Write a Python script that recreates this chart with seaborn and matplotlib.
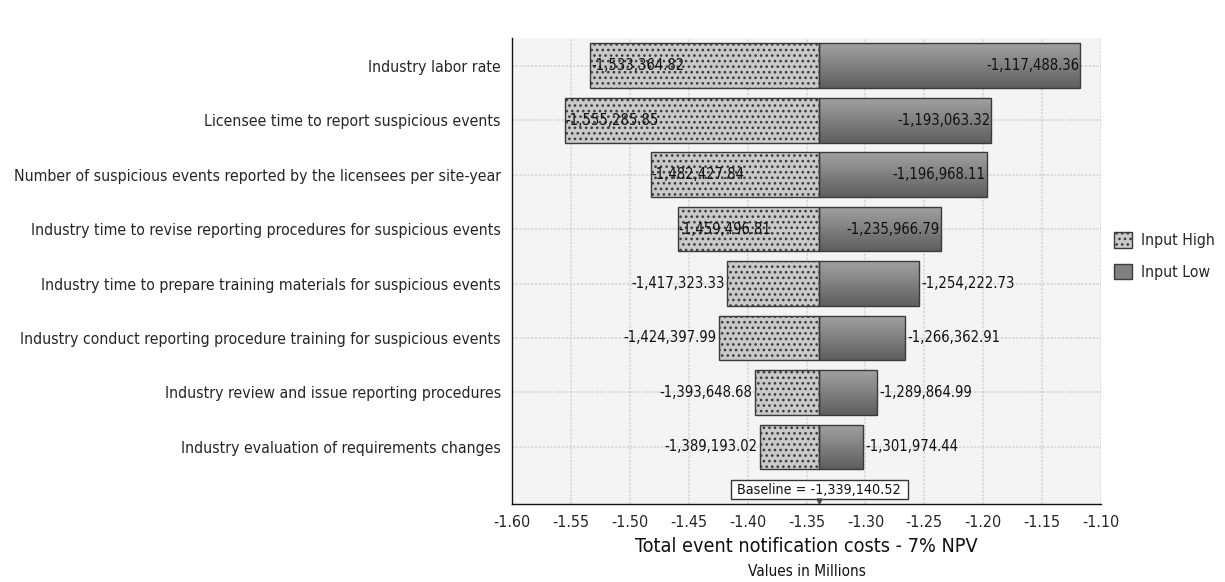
import numpy as np
import pandas as pd
import matplotlib
matplotlib.use("Agg")
import matplotlib.pyplot as plt
from matplotlib.patches import Patch, Rectangle
from matplotlib.colors import LinearSegmentedColormap
import seaborn as sns

categories = [
    "Industry labor rate",
    "Licensee time to report suspicious events",
    "Number of suspicious events reported by the licensees per site-year",
    "Industry time to revise reporting procedures for suspicious events",
    "Industry time to prepare training materials for suspicious events",
    "Industry conduct reporting procedure training for suspicious events",
    "Industry review and issue reporting procedures",
    "Industry evaluation of requirements changes",
]
input_high = [-1533364.82, -1555285.85, -1482427.84, -1459496.81,
              -1417323.33, -1424397.99, -1393648.68, -1389193.02]
input_low = [-1117488.36, -1193063.32, -1196968.11, -1235966.79,
             -1254222.73, -1266362.91, -1289864.99, -1301974.44]
baseline = -1339140.52
x_ticks = [-1.60, -1.55, -1.50, -1.45, -1.40, -1.35, -1.30, -1.25, -1.20, -1.15, -1.10]

sns.set_theme(style="white")
plt.rcParams["font.family"] = ["DejaVu Sans"]
plt.rcParams["font.stretch"] = "condensed"
plt.rcParams["hatch.linewidth"] = 1.1
plt.rcParams["hatch.color"] = "#3a3a3a"

fig = plt.figure(figsize=(12.25, 5.82), dpi=100)
ax = fig.add_axes([512 / 1225, 1 - 504 / 582, (1101 - 512) / 1225, (504 - 38) / 582])
ax.set_facecolor("#f4f4f4")

base_m = baseline / 1e6
high_m = np.array(input_high) / 1e6
low_m = np.array(input_low) / 1e6

df_high = pd.DataFrame({"cat": categories, "w": high_m - base_m})
df_low = pd.DataFrame({"cat": categories, "w": low_m - base_m})

sns.barplot(data=df_high, x="w", y="cat", orient="h", left=base_m,
            color="#c9c9c9", edgecolor="#3a3a3a", linewidth=1.0,
            hatch="...", width=0.82, ax=ax, zorder=2)
sns.barplot(data=df_low, x="w", y="cat", orient="h", left=base_m,
            color="#8a8a8a", edgecolor="#3a3a3a", linewidth=1.0,
            width=0.82, ax=ax, zorder=2)

# gradient fill for the "Input Low" bars
cmap = LinearSegmentedColormap.from_list("g", ["#a2a2a2", "#5e5e5e"])
grad = np.linspace(0, 1, 128).reshape(-1, 1)
for p in ax.containers[1]:
    x0, y0, w, h = p.get_x(), p.get_y(), p.get_width(), p.get_height()
    im = ax.imshow(grad, cmap=cmap, extent=[x0, x0 + w, y0 + h, y0],
                   origin="upper", aspect="auto", zorder=1.9, interpolation="bilinear")
    im.set_clip_path(p)
    p.set_facecolor("none")

ax.set_xlim(-1.60, -1.10)
ax.set_ylim(8.05, -0.51)
ax.set_aspect("auto")

# value labels
for i in range(len(categories)):
    wh = base_m - high_m[i]
    if wh >= 0.1:
        ax.text(high_m[i] + 0.001, i, f"{input_high[i]:,.2f}", ha="left", va="center", fontsize=10.6, color="#111", zorder=5)
    else:
        ax.text(high_m[i] - 0.002, i, f"{input_high[i]:,.2f}", ha="right", va="center", fontsize=10.6, color="#111", zorder=5)
    wl = low_m[i] - base_m
    if wl >= 0.1:
        ax.text(low_m[i] - 0.001, i, f"{input_low[i]:,.2f}", ha="right", va="center", fontsize=10.6, color="#111", zorder=5)
    else:
        ax.text(low_m[i] + 0.002, i, f"{input_low[i]:,.2f}", ha="left", va="center", fontsize=10.6, color="#111", zorder=5)

# baseline annotation
box_w, box_h, box_y = 0.1505, 0.35, 7.78
ax.add_patch(Rectangle((base_m - box_w / 2, box_y - box_h / 2), box_w, box_h,
                       facecolor="white", edgecolor="#333333", linewidth=1.0, zorder=4))
ax.text(base_m, box_y + 0.01, f"Baseline = {baseline:,.2f}", ha="center", va="center", fontsize=10.3,
        color="#111", zorder=5)
ax.plot([base_m], [7.99], marker="v", ms=3.5, color="#444444", zorder=5, clip_on=False)

# axes styling
ax.set_xticks(x_ticks)
ax.set_xticklabels([f"{t:.2f}" for t in x_ticks], fontsize=11.5)
ax.tick_params(axis="x", direction="out", length=5, width=0.8, color="#222", pad=3)
ax.tick_params(axis="y", direction="out", length=5, width=0.8, color="#222", pad=3, labelsize=11.3)
ax.set_ylabel("")
ax.set_xlabel("Total event notification costs - 7% NPV", fontsize=14.2, labelpad=5, color="#111")
fig.text((512 + 1101) / 2 / 1225, 1 - 572 / 582, "Values in Millions", ha="center", va="center", fontsize=11, color="#111")

ax.grid(True, color="#d4d4d4", linestyle=(0, (1.5, 1)), linewidth=1.1)
ax.set_axisbelow(True)
for s in ["top", "right"]:
    ax.spines[s].set_visible(False)
for s in ["left", "bottom"]:
    ax.spines[s].set_visible(True)
    ax.spines[s].set_color("#111")
    ax.spines[s].set_linewidth(1.0)

handles = [
    Patch(facecolor="#c9c9c9", edgecolor="#3a3a3a", hatch="...", label="Input High"),
    Patch(facecolor="#808080", edgecolor="#3a3a3a", label="Input Low"),
]
fig.legend(handles=handles, loc="center left", bbox_to_anchor=(1108 / 1225, 1 - 256 / 582),
           frameon=False, fontsize=11.3, handlelength=1.15, handleheight=1.15,
           labelspacing=1.0, handletextpad=0.55, borderaxespad=0)

fig.savefig("out.png", dpi=100)
